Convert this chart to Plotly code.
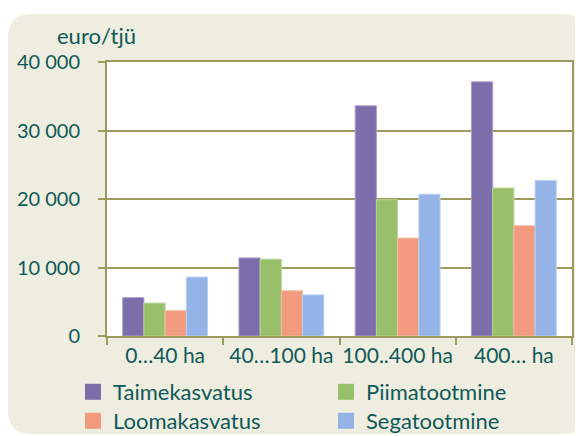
import plotly.graph_objects as go

categories = ["0…40 ha", "40…100 ha", "100..400 ha", "400… ha"]
series_names = ["Taimekasvatus", "Piimatootmine", "Loomakasvatus", "Segatootmine"]
taimekasvatus = [5600, 11400, 33600, 37100]
piimatootmine = [4800, 11200, 19900, 21600]
loomakasvatus = [3700, 6600, 14300, 16100]
segatootmine = [8600, 6000, 20700, 22700]
y_tickvals = [0, 10000, 20000, 30000, 40000]
y_ticktext = ["0", "10 000", "20 000", "30 000", "40 000"]
y_title = "euro/tjü"

colors = ["#7B6EAA", "#98BF69", "#F29A7E", "#94B3E6"]
outline = ["#A79FCB", "#B9D596", "#F7BBA6", "#BCD0F0"]
legend_rows = ["legend", "legend", "legend2", "legend2"]
TEXT = "#0E5A58"
OLIVE = "#9C9A5C"
FONT = "Lato"

# page offset (default body margin) -> figure drawn at (8, 8)
OFF = 8
W, H = 583 - OFF, 436 - OFF
# plot area in page pixels: x 107..572, y 62..336
L, R, T, B = 107 - OFF, W - (572 - OFF), 62 - OFF, H - (336 - OFF)
PW, PH = W - L - R, H - T - B

def px(x):
    return (x - OFF - L) / PW

def py(y):
    return (H - B - (y - OFF)) / PH

fig = go.Figure()
values = [taimekasvatus, piimatootmine, loomakasvatus, segatootmine]
for name, vals, c, oc in zip(series_names, values, colors, outline):
    fig.add_trace(go.Bar(
        x=categories, y=vals, name=name, showlegend=False,
        marker=dict(color=c, line=dict(color=oc, width=1)),
    ))
for name, c, lg in zip(series_names, colors, legend_rows):
    fig.add_trace(go.Scatter(
        x=[None], y=[None], mode="markers", name=name, legend=lg,
        marker=dict(symbol="square", size=16, color=c),
    ))

# rounded beige background
x0, x1, y0, y1, r = 8, 586, 14, 434, 24
rx, ry = r / PW, r / PH
X0, X1, Y0, Y1 = px(x0), px(x1), py(y0), py(y1)
path = (f"M {X0+rx},{Y0} L {X1-rx},{Y0} Q {X1},{Y0} {X1},{Y0-ry} "
        f"L {X1},{Y1+ry} Q {X1},{Y1} {X1-rx},{Y1} L {X0+rx},{Y1} "
        f"Q {X0},{Y1} {X0},{Y1+ry} L {X0},{Y0-ry} Q {X0},{Y0} {X0+rx},{Y0} Z")
fig.add_shape(type="path", path=path, xref="paper", yref="paper",
              fillcolor="#EFEDE0", line=dict(width=0), layer="below")
fig.add_shape(type="rect", xref="paper", yref="paper", x0=0, x1=1, y0=0, y1=1,
              fillcolor="white", line=dict(width=0), layer="below")

fig.add_annotation(text=y_title, xref="paper", yref="paper",
                   x=px(96.5), y=py(35), showarrow=False,
                   xanchor="center", yanchor="middle",
                   font=dict(family=FONT, size=22, color=TEXT))

legend_style = dict(
    orientation="h", xanchor="left", yanchor="top",
    entrywidth=208, entrywidthmode="pixels",
    bgcolor="rgba(0,0,0,0)", borderwidth=0,
    font=dict(family=FONT, size=22, color=TEXT),
    itemclick=False,
)

fig.update_layout(
    width=W, height=H,
    margin=dict(l=L, r=R, t=T, b=B, pad=0, autoexpand=False),
    paper_bgcolor="white", plot_bgcolor="white",
    barmode="group", bargap=0.27, bargroupgap=0,
    font=dict(family=FONT, size=22, color=TEXT),
    legend=dict(x=px(73), y=py(371), **legend_style),
    legend2=dict(x=px(73), y=py(400), **legend_style),
    xaxis=dict(
        showline=True, linecolor=OLIVE, linewidth=2, mirror=True,
        ticks="outside", tickson="boundaries", ticklen=7, tickwidth=2,
        tickcolor=OLIVE, showgrid=False, ticklabelstandoff=0, tickangle=0,
        automargin=False,
        tickfont=dict(family=FONT, size=21, color=TEXT),
    ),
    yaxis=dict(
        range=[0, 40000], tickvals=y_tickvals, ticktext=y_ticktext,
        showline=True, linecolor=OLIVE, linewidth=2, mirror=True,
        ticks="outside", ticklen=7, tickwidth=2, tickcolor=OLIVE,
        showgrid=True, gridcolor=OLIVE, gridwidth=2,
        ticklabelstandoff=14, zeroline=False, automargin=False,
        tickfont=dict(family=FONT, size=20, color=TEXT),
    ),
)

fig.write_html("out.html")
